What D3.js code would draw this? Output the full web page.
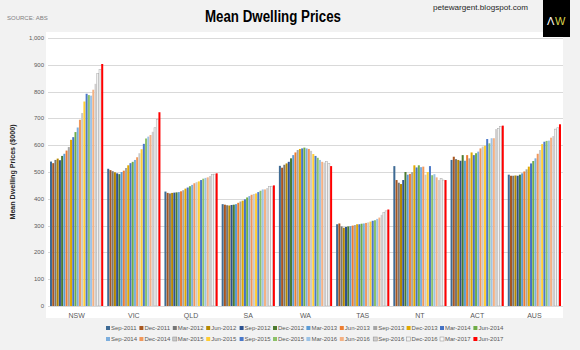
<!DOCTYPE html>
<html lang="en">
<head>
<meta charset="UTF-8">
<title>Mean Dwelling Prices</title>
<style>
    body { margin:0; background:#f2f2f2; }
    text { font-family: "Liberation Sans Narrow", "Liberation Sans", Arial, sans-serif; }
</style>
</head>
<body>
<script src="https://cdn.jsdelivr.net/npm/d3@7"></script>
<script type="text/javascript">
    // states / territories
    var categories = ["NSW","VIC","QLD","SA","WA","TAS","NT","ACT","AUS"];
    // quarters
    var quarters = ["Sep-2011","Dec-2011","Mar-2012","Jun-2012","Sep-2012","Dec-2012",
        "Mar-2013","Jun-2013","Sep-2013","Dec-2013","Mar-2014","Jun-2014",
        "Sep-2014","Dec-2014","Mar-2015","Jun-2015","Sep-2015","Dec-2015",
        "Mar-2016","Jun-2016","Sep-2016","Dec-2016","Mar-2017","Jun-2017"];
    var colors = ["#3e6a94","#a8561f","#767676","#b58700","#2c5190","#4c7a2f",
        "#5b9bd5","#ed7d31","#a5a5a5","#e0a800","#4472c4","#70ad47",
        "#7caedd","#f1975a","#c9c9c9","#ffcd33","#4a78c9","#8cc168",
        "#9dc3e6","#f4b183","#d0cece","#f2f2f2","#f7f7f7","#ff0000"];
    var yTicks = [0,100,200,300,400,500,600,700,800,900,1000];

    // $000, one array per state, Sep-2011 .. Jun-2017
    var NSW = [539,533,545,550,544,560,568,580,593,620,630,649,666,695,720,763,792,787,785,807,829,867,882,903];
    var VIC = [512,507,503,499,495,492,500,505,515,525,533,538,545,555,570,585,605,625,632,638,650,665,697,723];
    var QLD = [427,422,420,422,423,424,425,428,432,438,442,447,452,458,462,465,470,475,478,480,485,490,492,495];
    var SA  = [380,378,376,375,377,378,380,385,390,393,398,405,410,415,418,420,425,430,435,435,440,445,447,450];
    var WA  = [523,516,527,532,538,551,563,573,582,586,588,591,588,586,579,567,560,553,545,538,535,540,532,522];
    var TAS = [305,308,297,292,295,297,298,300,302,305,305,307,308,310,312,315,318,320,325,330,340,348,355,360];
    var NT  = [522,470,460,455,470,500,490,493,500,525,517,525,518,520,490,500,522,488,492,480,470,475,470,470];
    var ACT = [545,557,548,545,542,563,542,563,551,573,563,570,576,588,595,598,623,607,626,626,660,663,669,673];
    var AUS = [490,486,486,487,486,490,495,502,510,520,532,541,551,568,582,604,613,616,617,628,634,660,665,678];
    var values = [NSW,VIC,QLD,SA,WA,TAS,NT,ACT,AUS];

    var w = 580, h = 350;
    var pLeft = 48, pRight = 563, pTop = 38, pBottom = 306;

    var svg = d3.select("body").append("svg").attr("width",w).attr("height",h);
    svg.append("rect").attr("width",w).attr("height",h).attr("fill","#f2f2f2");
    // plot area
    svg.append("rect").attr("x",pLeft-2).attr("y",pTop-6).attr("width",pRight-pLeft+2).attr("height",pBottom-pTop+18)
        .attr("fill","#ffffff");

    var x0 = d3.scaleBand().domain(categories).range([pLeft,pRight]).paddingInner(0.07).paddingOuter(0.035);
    var x1 = d3.scaleBand().domain(quarters).range([0,x0.bandwidth()]).paddingInner(0.1);
    var y = d3.scaleLinear().domain([0,1000]).range([pBottom,pTop]);

    // grid
    svg.append("g").selectAll("line").data(yTicks.slice(1)).enter().append("line")
        .attr("x1",pLeft).attr("x2",pRight)
        .attr("y1",function(d){return Math.round(y(d))+0.5;}).attr("y2",function(d){return Math.round(y(d))+0.5;})
        .attr("stroke","#d9d9d9").attr("stroke-width",1);

    // y axis labels
    var fmt = d3.format(",");
    svg.append("g").selectAll("text").data(yTicks).enter().append("text")
        .attr("x",44).attr("y",function(d){return y(d)+2;})
        .attr("text-anchor","end").attr("font-size",6).attr("fill","#595959")
        .text(function(d){return fmt(d);});

    svg.append("text")
        .attr("transform","translate(15,"+((pTop+pBottom)/2)+") rotate(-90)")
        .attr("text-anchor","middle").attr("font-size",8).attr("font-weight","bold").attr("fill","#262626")
        .attr("textLength",95).attr("lengthAdjust","spacingAndGlyphs")
        .text("Mean Dwelling Prices ($000)");

    // bars
    var groups = svg.append("g").selectAll("g.grp").data(categories).enter().append("g")
        .attr("class","grp")
        .attr("transform",function(d){return "translate("+x0(d)+",0)";});
    groups.selectAll("rect").data(function(d,i){
            return quarters.map(function(q,j){return {q:q, j:j, v:values[i][j]};});
        }).enter().append("rect")
        .attr("x",function(d){return x1(d.q);})
        .attr("width",x1.bandwidth())
        .attr("y",function(d){return y(d.v);})
        .attr("height",function(d){return pBottom-y(d.v);})
        .attr("fill",function(d){return colors[d.j];})
        .attr("stroke",function(d){return (d.j==21||d.j==22)?"#a6a6a6":"none";})
        .attr("stroke-width",0.5);

    // baseline
    svg.append("line").attr("x1",pLeft).attr("x2",pRight).attr("y1",pBottom+0.5).attr("y2",pBottom+0.5)
        .attr("stroke","#d9d9d9");

    // category labels
    svg.append("g").selectAll("text").data(categories).enter().append("text")
        .attr("x",function(d){return x0(d)+x0.bandwidth()/2;})
        .attr("y",318).attr("text-anchor","middle").attr("font-size",7).attr("fill","#595959")
        .text(function(d){return d;});

    // legend
    var legend = svg.append("g").selectAll("g.lg").data(quarters).enter().append("g")
        .attr("class","lg")
        .attr("transform",function(d,i){
            return "translate("+(106+(i%12)*33.4)+","+(i<12?330:341)+")";
        });
    legend.append("rect").attr("x",0).attr("y",-4).attr("width",4).attr("height",4)
        .attr("fill",function(d,i){return colors[i];})
        .attr("stroke",function(d,i){return (i==21||i==22||i==14||i==20)?"#8c8c8c":"none";})
        .attr("stroke-width",0.5);
    legend.append("text").attr("x",5).attr("y",0).attr("font-size",6).attr("fill","#595959")
        .text(function(d){return d;});

    // titles
    svg.append("text").attr("x",273).attr("y",22).attr("text-anchor","middle")
        .attr("font-size",16).attr("font-weight","bold").attr("fill","#000")
        .attr("textLength",136).attr("lengthAdjust","spacingAndGlyphs")
        .text("Mean Dwelling Prices");
    svg.append("text").attr("x",7).attr("y",20).attr("font-size",6).attr("fill","#7f7f7f")
        .text("SOURCE: ABS");
    svg.append("text").attr("x",433).attr("y",10).attr("font-size",8).attr("fill","#262626")
        .attr("textLength",95).attr("lengthAdjust","spacingAndGlyphs")
        .text("petewargent.blogspot.com");

    // logo
    svg.append("rect").attr("x",543).attr("y",0).attr("width",27).attr("height",37).attr("fill","#000");
    svg.append("text").attr("x",547).attr("y",25).attr("font-size",11).attr("fill","#ffffff")
        .attr("font-family","Liberation Sans").text("Λ");
    svg.append("text").attr("x",555).attr("y",25).attr("font-size",11).attr("fill","#d9d24a")
        .attr("font-family","Liberation Sans").text("W");
</script>
</body>
</html>
